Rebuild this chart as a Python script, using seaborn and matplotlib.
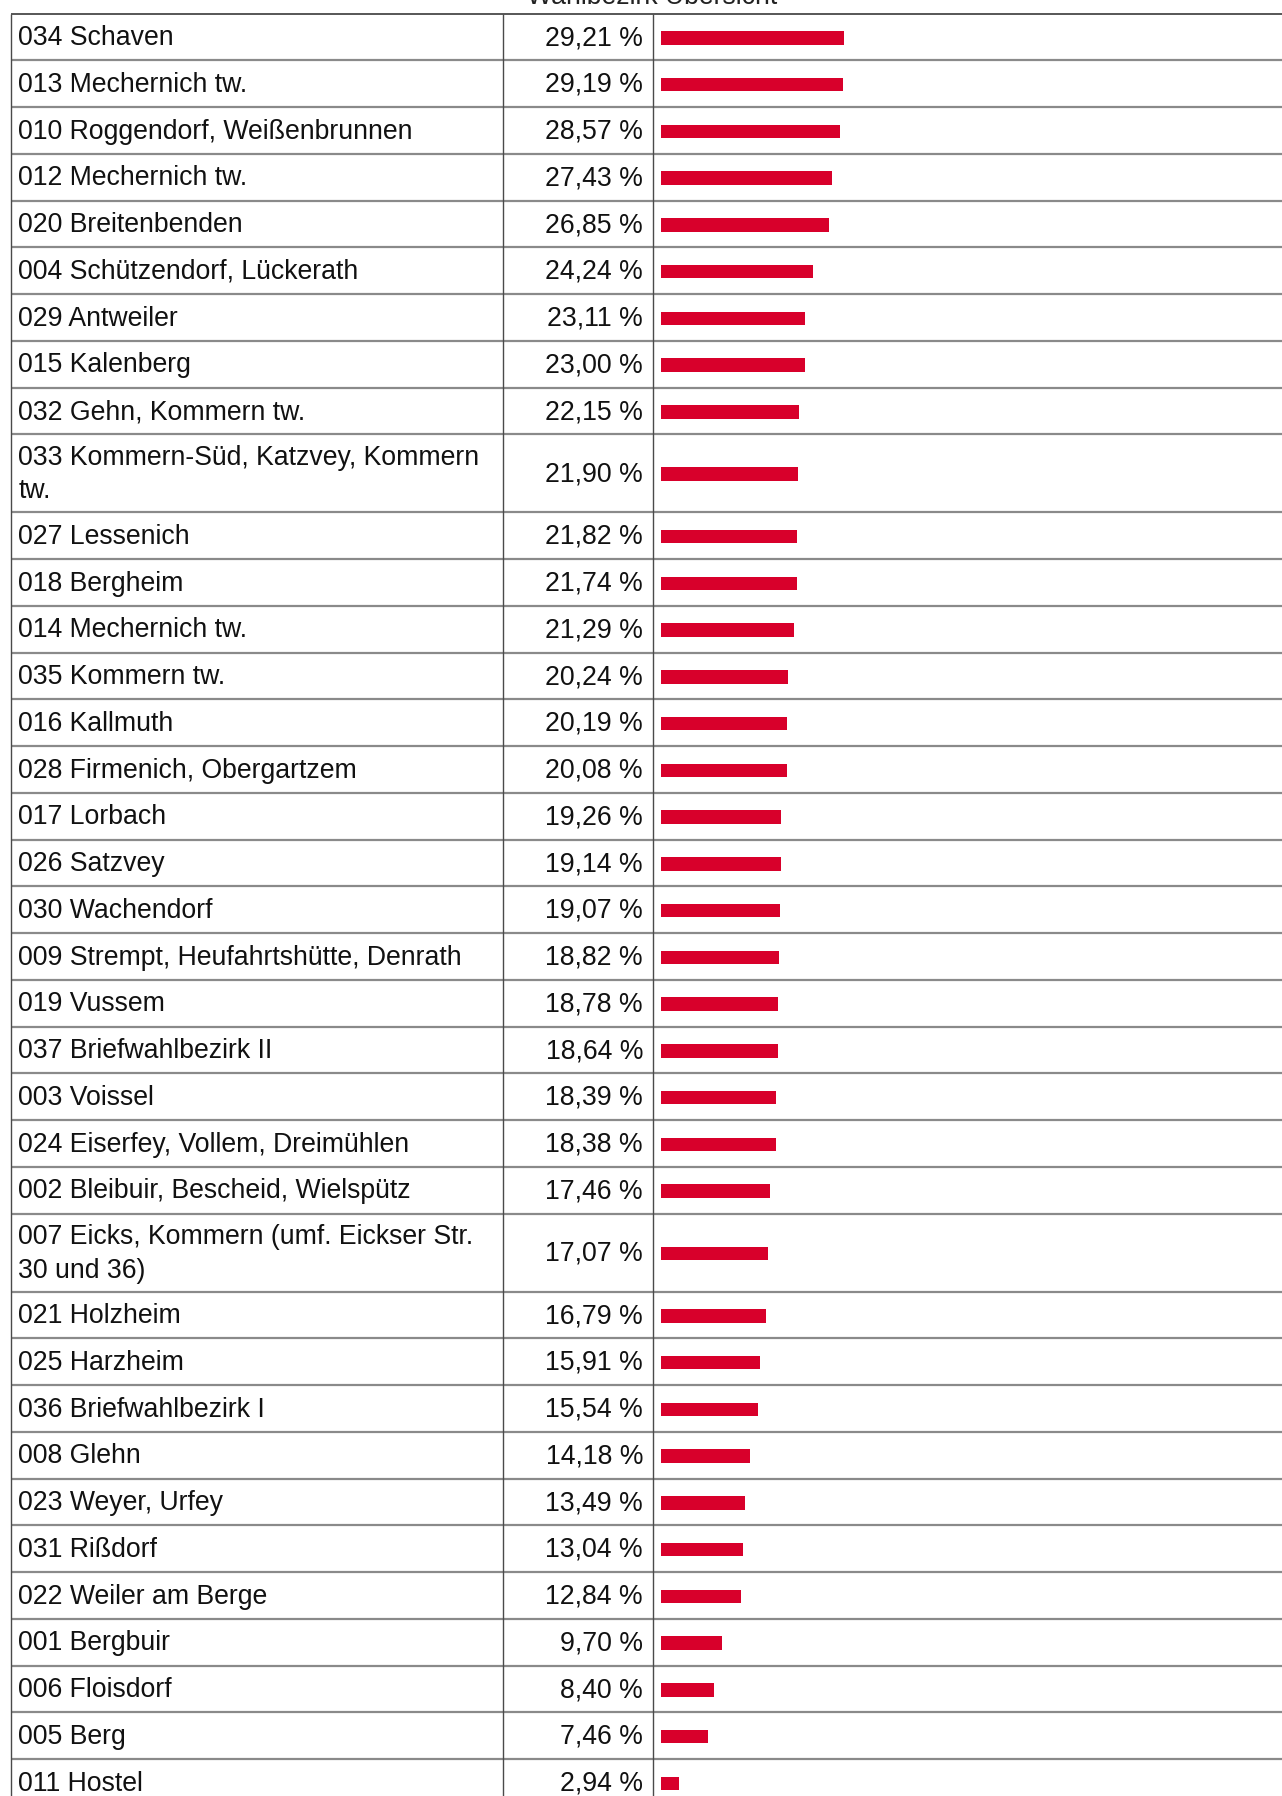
import numpy as np
import pandas as pd
import matplotlib
matplotlib.use("Agg")
import matplotlib.pyplot as plt
import seaborn as sns

# Wahlbezirke, sorted by share
bezirke = [
    "034 Schaven",
    "013 Mechernich tw.",
    "010 Roggendorf, Weißenbrunnen",
    "012 Mechernich tw.",
    "020 Breitenbenden",
    "004 Schützendorf, Lückerath",
    "029 Antweiler",
    "015 Kalenberg",
    "032 Gehn, Kommern tw.",
    "033 Kommern-Süd, Katzvey, Kommern\ntw.",
    "027 Lessenich",
    "018 Bergheim",
    "014 Mechernich tw.",
    "035 Kommern tw.",
    "016 Kallmuth",
    "028 Firmenich, Obergartzem",
    "017 Lorbach",
    "026 Satzvey",
    "030 Wachendorf",
    "009 Strempt, Heufahrtshütte, Denrath",
    "019 Vussem",
    "037 Briefwahlbezirk II",
    "003 Voissel",
    "024 Eiserfey, Vollem, Dreimühlen",
    "002 Bleibuir, Bescheid, Wielspütz",
    "007 Eicks, Kommern (umf. Eickser Str.\n30 und 36)",
    "021 Holzheim",
    "025 Harzheim",
    "036 Briefwahlbezirk I",
    "008 Glehn",
    "023 Weyer, Urfey",
    "031 Rißdorf",
    "022 Weiler am Berge",
    "001 Bergbuir",
    "006 Floisdorf",
    "005 Berg",
    "011 Hostel",
]

anteil = [
    29.21, 29.19, 28.57, 27.43, 26.85, 24.24, 23.11, 23.00, 22.15, 21.90,
    21.82, 21.74, 21.29, 20.24, 20.19, 20.08, 19.26, 19.14, 19.07, 18.82,
    18.78, 18.64, 18.39, 18.38, 17.46, 17.07, 16.79, 15.91, 15.54, 14.18,
    13.49, 13.04, 12.84, 9.70, 8.40, 7.46, 2.94,
]

titel = "Wahlbezirk Übersicht"

# ---- layout (pixels) ----
W, H, DPI = 1282, 1796, 100
TOP = 13.5
ROW_H = 46.75
LINE_H = 31.25
X_LEFT = 10.5
X_COL1 = 502.5
X_COL2 = 652.5
X_BAR0 = 661.0
BAR_SPAN = 625.0      # pixels for 100 %
BAR_THICK = 13.7
RED = "#d8002b"
FS = 19.2

sns.set_theme(style="white")
plt.rcParams["font.family"] = ["Liberation Sans", "DejaVu Sans"]

n_lines = np.array([b.count("\n") + 1 for b in bezirke])
heights = ROW_H + (n_lines - 1) * LINE_H
edges = TOP + np.concatenate([[0], np.cumsum(heights)])
centers = (edges[:-1] + edges[1:]) / 2

fig = plt.figure(figsize=(W / DPI, H / DPI), dpi=DPI)

# table frame and text
ax = fig.add_axes([0, 0, 1, 1])
ax.set_xlim(0, W)
ax.set_ylim(H, 0)
ax.axis("off")

for y in edges[1:]:
    ax.plot([X_LEFT, W + 5], [y, y], color="#8a8a8a", lw=1.6, solid_capstyle="butt")
ax.plot([X_LEFT, W + 5], [TOP, TOP], color="#3a3a3a", lw=1.2, solid_capstyle="butt")
for x in (X_LEFT, X_COL1, X_COL2):
    ax.plot([x, x], [TOP, H + 50], color="#4a4a4a", lw=1.0, solid_capstyle="butt")

for name, val, yc in zip(bezirke, anteil, centers):
    ax.text(18.5, yc + 1.2, name, fontsize=FS, color="#111111", ha="left",
            va="center", linespacing=1.38)
    ax.text(643, yc + 1.2, f"{val:.2f} %".replace(".", ","), fontsize=FS,
            color="#111111", ha="right", va="center")

ax.text(652, 4.5, titel, fontsize=FS, color="#222222", ha="center", va="baseline")

# bar column
bx = fig.add_axes([X_BAR0 / W, 0, BAR_SPAN / W, 1])
df = pd.DataFrame({"anteil": anteil, "pos": centers + 1.0})
sns.barplot(data=df, x="anteil", y="pos", orient="h", native_scale=True,
            color=RED, saturation=1, width=BAR_THICK / ROW_H, ax=bx,
            errorbar=None, linewidth=0)
bx.set_xlim(0, 100)
bx.set_ylim(H, 0)
bx.axis("off")
bx.patch.set_alpha(0)

fig.savefig("out.png", dpi=DPI)
